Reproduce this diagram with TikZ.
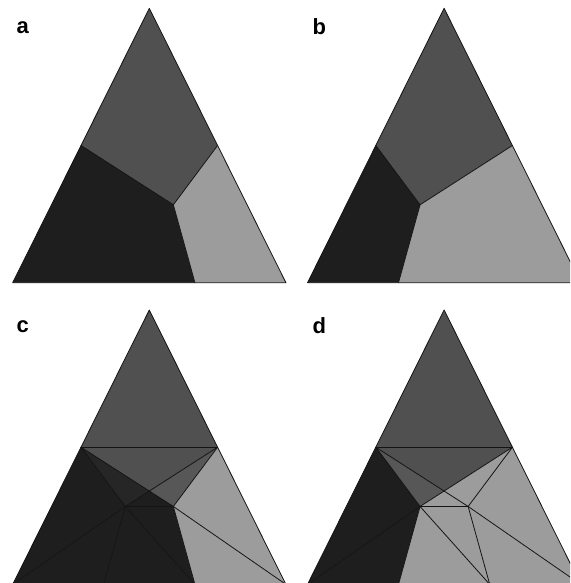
\documentclass[tikz,border=0pt]{standalone}
\usepackage{fontspec}
\setmainfont{Liberation Sans}
\usetikzlibrary{calc}
\definecolor{topg}{HTML}{505050}
\definecolor{topl}{HTML}{575757}
\definecolor{blk}{HTML}{1E1E1E}
\definecolor{blkl}{HTML}{262626}
\definecolor{lig}{HTML}{9C9C9C}
\definecolor{edgec}{HTML}{141414}
\tikzset{
  edgeline/.style={draw=edgec, line width=0.8pt, line join=round, line cap=round},
  lab/.style={font=\bfseries\fontsize{22}{22}\selectfont, anchor=base west, inner sep=0pt},
  panel/.style={x=273.2pt, y=274.4pt}
}
\newcommand\trianglepoints{%
  \coordinate (A) at (0,0);
  \coordinate (B) at (1,0);
  \coordinate (C) at (0.5,1);
  \coordinate (ML) at (0.25,0.5);
  \coordinate (MR) at (0.75,0.5);
  \coordinate (P) at (0.588,0.284);
  \coordinate (X) at (0.412,0.284);
  \coordinate (QP) at (0.667,0);
  \coordinate (QX) at (0.333,0);
  \coordinate (K) at (intersection of ML--P and MR--X);
}
\begin{document}
\begin{tikzpicture}[x=1pt, y=-1pt]
\useasboundingbox (0,0) rectangle (570,583);
\fill[white] (0,0) rectangle (570,583);
\clip (0,0) rectangle (570,583);

% ---------- panel a ----------
\begin{scope}[shift={(12.7,282.7)}, panel]
  \trianglepoints
  \fill[topg] (C) -- (ML) -- (P) -- (MR) -- cycle;
  \fill[blk] (A) -- (ML) -- (P) -- (QP) -- cycle;
  \fill[lig] (P) -- (MR) -- (B) -- (QP) -- cycle;
  \draw[edgeline] (A) -- (B) -- (C) -- cycle;
  \draw[edgeline] (ML) -- (P) -- (MR);
  \draw[edgeline] (P) -- (QP);
\end{scope}

% ---------- panel b ----------
\begin{scope}[shift={(307.5,282.7)}, panel]
  \trianglepoints
  \fill[topg] (C) -- (ML) -- (X) -- (MR) -- cycle;
  \fill[blk] (A) -- (ML) -- (X) -- (QX) -- cycle;
  \fill[lig] (X) -- (MR) -- (B) -- (QX) -- cycle;
  \draw[edgeline] (A) -- (B) -- (C) -- cycle;
  \draw[edgeline] (ML) -- (X) -- (MR);
  \draw[edgeline] (X) -- (QX);
\end{scope}

% ---------- panel c ----------
\begin{scope}[shift={(12.7,584.4)}, panel]
  \trianglepoints
  \fill[topg] (C) -- (ML) -- (MR) -- cycle;
  \fill[topg] (ML) -- (MR) -- (K) -- cycle;
  \fill[topl] (MR) -- (K) -- (P) -- cycle;
  \fill[blkl] (ML) -- (K) -- (X) -- cycle;
  \fill[blk] (K) -- (X) -- (P) -- cycle;
  \fill[blk] (A) -- (ML) -- (X) -- cycle;
  \fill[blk] (A) -- (X) -- (QX) -- cycle;
  \fill[blk] (QX) -- (X) -- (QP) -- cycle;
  \fill[blk] (X) -- (P) -- (QP) -- cycle;
  \fill[lig] (P) -- (QP) -- (B) -- cycle;
  \fill[lig] (MR) -- (P) -- (B) -- cycle;
  \draw[edgeline] (A) -- (B) -- (C) -- cycle;
  \draw[edgeline] (ML) -- (MR);
  \draw[edgeline] (ML) -- (P);
  \draw[edgeline] (MR) -- (X);
  \draw[edgeline] (ML) -- (X);
  \draw[edgeline] (MR) -- (P);
  \draw[edgeline] (X) -- (P);
  \draw[edgeline] (X) -- (A);
  \draw[edgeline] (X) -- (QX);
  \draw[edgeline] (X) -- (QP);
  \draw[edgeline] (P) -- (QP);
  \draw[edgeline] (P) -- (B);
\end{scope}

% ---------- panel d ----------
\begin{scope}[shift={(307.5,584.4)}, panel]
  \trianglepoints
  \fill[topg] (C) -- (ML) -- (MR) -- cycle;
  \fill[topg] (ML) -- (MR) -- (K) -- cycle;
  \fill[topl] (ML) -- (K) -- (X) -- cycle;
  \fill[lig] (MR) -- (K) -- (P) -- cycle;
  \fill[lig] (K) -- (X) -- (P) -- cycle;
  \fill[blk] (A) -- (ML) -- (X) -- cycle;
  \fill[blk] (A) -- (X) -- (QX) -- cycle;
  \fill[lig] (QX) -- (X) -- (QP) -- cycle;
  \fill[lig] (X) -- (P) -- (QP) -- cycle;
  \fill[lig] (P) -- (QP) -- (B) -- cycle;
  \fill[lig] (MR) -- (P) -- (B) -- cycle;
  \draw[edgeline] (A) -- (B) -- (C) -- cycle;
  \draw[edgeline] (ML) -- (MR);
  \draw[edgeline] (ML) -- (P);
  \draw[edgeline] (MR) -- (X);
  \draw[edgeline] (ML) -- (X);
  \draw[edgeline] (MR) -- (P);
  \draw[edgeline] (X) -- (P);
  \draw[edgeline] (X) -- (A);
  \draw[edgeline] (X) -- (QX);
  \draw[edgeline] (X) -- (QP);
  \draw[edgeline] (P) -- (QP);
  \draw[edgeline] (P) -- (B);
\end{scope}

% ---------- labels ----------
\node[lab] (la) at (16.3,33.5) {a};
\node[lab] (lb) at (312.3,34.5) {b};
\node[lab] (lc) at (16.3,332.5) {c};
\node[lab] (ld) at (312.3,333.5) {d};
\end{tikzpicture}
\end{document}
